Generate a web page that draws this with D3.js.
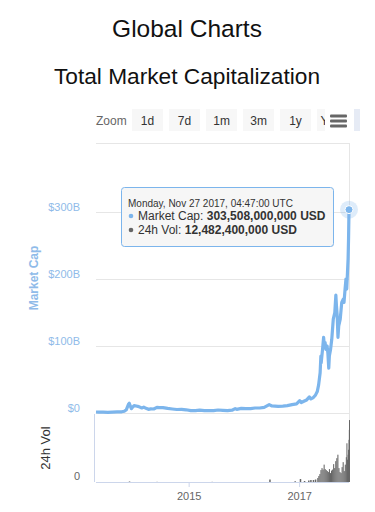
<!DOCTYPE html>
<html>
<head>
<meta charset="utf-8">
<script src="https://cdn.jsdelivr.net/npm/d3@7/dist/d3.min.js"></script>
<style>
  html, body { margin: 0; padding: 0; background: #fff; }
  svg { display: block; font-family: "Liberation Sans", Arial, sans-serif; }
</style>
</head>
<body>
<svg id="chart" width="375" height="512"></svg>
<script>
// market cap, billions USD
var capDates = ["2013-04-28","2013-05-15","2013-06-15","2013-07-15","2013-08-15","2013-09-15","2013-10-15","2013-11-01","2013-11-15","2013-11-30","2013-12-04","2013-12-10","2013-12-18","2013-12-25","2014-01-05","2014-01-20","2014-02-05","2014-02-25","2014-03-10","2014-03-25","2014-04-10","2014-04-25","2014-05-15","2014-06-05","2014-06-20","2014-07-15","2014-08-15","2014-09-15","2014-10-15","2014-11-15","2014-12-15","2015-01-15","2015-02-15","2015-03-15","2015-04-15","2015-05-15","2015-06-15","2015-07-15","2015-08-15","2015-09-15","2015-10-15","2015-11-05","2015-11-15","2015-12-15","2016-01-15","2016-02-15","2016-03-15","2016-04-15","2016-05-15","2016-06-17","2016-07-05","2016-08-15","2016-09-15","2016-10-15","2016-11-15","2016-12-15","2017-01-05","2017-01-15","2017-02-01","2017-02-20","2017-03-10","2017-03-20","2017-04-05","2017-04-20","2017-05-01","2017-05-10","2017-05-20","2017-05-25","2017-05-27","2017-06-05","2017-06-12","2017-06-15","2017-06-22","2017-06-27","2017-07-05","2017-07-10","2017-07-16","2017-07-20","2017-07-28","2017-08-05","2017-08-15","2017-08-25","2017-09-01","2017-09-05","2017-09-10","2017-09-15","2017-09-20","2017-09-30","2017-10-10","2017-10-20","2017-10-25","2017-11-01","2017-11-07","2017-11-12","2017-11-17","2017-11-21","2017-11-24","2017-11-27"];
var capValues = [1.5,1.3,1.2,1.0,1.3,1.6,1.8,2.6,5.0,13.5,14.5,11.0,6.5,8.5,11.0,10.5,9.5,7.5,8.8,7.0,5.5,6.2,6.0,8.5,8.0,8.0,6.8,6.0,5.2,5.5,4.8,3.5,3.5,4.2,3.5,3.6,3.6,4.5,4.0,3.5,4.2,6.5,5.5,6.8,6.6,6.6,7.5,7.5,8.5,12.5,10.5,10.0,10.4,11.0,12.5,13.5,18.5,15.5,17.5,19.5,24.0,21.0,23.0,27.0,32.0,42.0,60.0,85.0,75.0,95.0,113.0,105.0,105.0,95.0,100.0,90.0,67.0,85.0,95.0,110.0,140.0,150.0,176.0,160.0,145.0,113.0,130.0,140.0,165.0,170.0,165.0,185.0,200.0,185.0,210.0,230.0,260.0,303.5];

// 24h volume, billions USD
var volDates = ["2013-12-01","2014-06-01","2015-06-01","2016-06-17","2016-12-01","2017-01-05","2017-02-01","2017-03-01","2017-03-15","2017-04-01","2017-04-15","2017-05-01","2017-05-08","2017-05-15","2017-05-22","2017-05-29","2017-06-05","2017-06-12","2017-06-19","2017-06-26","2017-07-03","2017-07-10","2017-07-17","2017-07-24","2017-07-31","2017-08-07","2017-08-14","2017-08-21","2017-08-28","2017-09-04","2017-09-11","2017-09-18","2017-09-25","2017-10-02","2017-10-09","2017-10-16","2017-10-23","2017-10-30","2017-11-06","2017-11-10","2017-11-14","2017-11-18","2017-11-21","2017-11-24","2017-11-26","2017-11-27"];
var volValues = [0.1,0.03,0.03,0.5,0.15,0.6,0.2,0.3,0.4,0.4,0.5,0.8,1.2,1.6,2.4,2.8,2.5,3.5,2.6,2.4,2.2,2.0,2.6,1.8,2.3,2.5,3.6,2.8,4.2,4.8,5.5,2.8,2.0,1.8,3.0,4.0,2.2,3.5,5.0,7.8,4.5,5.5,6.5,8.5,10.5,12.48];

var capTicks = [0, 100, 200, 300];
var capTickLabels = ["$0", "$100B", "$200B", "$300B"];
var yearTicks = ["2015-01-01", "2017-01-01"];
var zoomButtons = ["1d", "7d", "1m", "3m", "1y", "YTD", "All"];
var tooltipLines = ["Monday, Nov 27 2017, 04:47:00 UTC", "Market Cap: ", "303,508,000,000 USD", "24h Vol: ", "12,482,400,000 USD"];

var parse = d3.utcParse("%Y-%m-%d");
var cap = capDates.map(function(d, i) { return {date: parse(d), value: capValues[i]}; });
var vol = volDates.map(function(d, i) { return {date: parse(d), value: volValues[i]}; });

var svg = d3.select("#chart");
var left = 96, right = 349;

// titles
svg.append("text").attr("x", 187).attr("y", 37).attr("text-anchor", "middle")
    .attr("font-size", 24.5).attr("fill", "#111").text("Global Charts");
svg.append("text").attr("x", 187).attr("y", 84).attr("text-anchor", "middle")
    .attr("font-size", 22.7).attr("fill", "#111").text("Total Market Capitalization");

// zoom buttons, the row is cut by the chart container at x=360
svg.append("clipPath").attr("id", "btnclip").append("rect")
    .attr("x", 0).attr("y", 100).attr("width", 360).attr("height", 40);
var btnG = svg.append("g").attr("clip-path", "url(#btnclip)");
btnG.append("text").attr("x", 96).attr("y", 125).attr("font-size", 12)
    .attr("fill", "#666").text("Zoom");
var step = 37, pad = 0.16;
var bx = d3.scaleBand().domain(zoomButtons)
    .range([132, 132 + step * (zoomButtons.length - pad)]).paddingInner(pad).paddingOuter(0);
var btn = btnG.selectAll("g.btn").data(zoomButtons).enter().append("g")
    .attr("transform", function(d) { return "translate(" + bx(d) + ",109)"; });
btn.append("rect").attr("width", bx.bandwidth()).attr("height", 22)
    .attr("fill", function(d) { return d === "All" ? "#e6ebf5" : "#f7f7f7"; });
btn.filter(function(d) { return d !== "All"; }).append("text")
    .attr("x", bx.bandwidth() / 2).attr("y", 16).attr("text-anchor", "middle")
    .attr("font-size", 12).attr("fill", "#333").text(function(d) { return d; });
// export menu icon sits over the YTD button
btnG.append("rect").attr("x", 325).attr("y", 108).attr("width", 24).attr("height", 24).attr("fill", "#fff");
[116, 121, 126].forEach(function(y) {
    btnG.append("rect").attr("x", 330).attr("y", y - 1.5).attr("width", 17).attr("height", 3)
        .attr("rx", 1).attr("fill", "#666");
});

// scales
var x = d3.scaleUtc().domain([parse("2013-04-28"), parse("2017-11-27")]).range([left, right]);
var y = d3.scaleLinear().domain([0, 300]).range([413, 212]);
var yv = d3.scaleLinear().domain([0, 13.7]).range([482, 414]);

// plot frame
svg.append("line").attr("x1", left).attr("x2", right).attr("y1", 143.5).attr("y2", 143.5).attr("stroke", "#e6e6e6");
svg.append("line").attr("x1", right + 0.5).attr("x2", right + 0.5).attr("y1", 143).attr("y2", 482).attr("stroke", "#e6e6e6");

// market cap grid + labels
var capAxis = d3.axisLeft(y).tickValues(capTicks).tickSize(right - left)
    .tickFormat(function(d, i) { return capTickLabels[i]; });
svg.append("g").attr("transform", "translate(" + right + ",0)").call(capAxis)
    .call(function(g) {
        g.select(".domain").remove();
        g.selectAll(".tick line").attr("stroke", "#e6e6e6");
        g.selectAll(".tick text").attr("x", 80 - right).attr("dy", "-0.15em")
            .attr("fill", "#8fbbe9").attr("font-size", 11).attr("font-family", "Liberation Sans, Arial, sans-serif");
    });
svg.append("text").attr("transform", "translate(38,278) rotate(-90)").attr("text-anchor", "middle")
    .attr("font-size", 12).attr("font-weight", "bold").attr("fill", "#8fbbe9").text("Market Cap");

// volume pane
svg.append("line").attr("x1", left - 1.5).attr("x2", left - 1.5).attr("y1", 414).attr("y2", 482).attr("stroke", "#ccd6eb");
svg.append("g").selectAll("rect").data(vol).enter().append("rect")
    .attr("x", function(d) { return x(d.date); })
    .attr("y", function(d) { return yv(d.value); })
    .attr("width", function(d, i) {
        var next = vol[i + 1] ? x(vol[i + 1].date) : right;
        return Math.max(1, Math.min(1.5, next - x(d.date)));
    })
    .attr("height", function(d) { return yv(0) - yv(d.value); })
    .attr("fill", "#666");
svg.append("text").attr("x", 80).attr("y", yv(0) - 2).attr("text-anchor", "end")
    .attr("font-size", 11).attr("fill", "#666").text("0");
svg.append("text").attr("transform", "translate(50,448) rotate(-90)").attr("text-anchor", "middle")
    .attr("font-size", 13).attr("fill", "#333").text("24h Vol");

// x axis
var xAxis = d3.axisBottom(x).tickValues(yearTicks.map(parse)).tickSize(5).tickFormat(d3.utcFormat("%Y"));
svg.append("g").attr("transform", "translate(0,482)").call(xAxis)
    .call(function(g) {
        g.select(".domain").attr("stroke", "#ccd6eb").attr("d", "M" + left + ",0.5H" + right);
        g.selectAll(".tick line").attr("stroke", "#ccd6eb");
        g.selectAll(".tick text").attr("y", 10).attr("fill", "#666").attr("font-size", 11)
            .attr("font-family", "Liberation Sans, Arial, sans-serif");
    });

// market cap line
var line = d3.line().x(function(d) { return x(d.date); }).y(function(d) { return y(d.value); });
svg.append("path").datum(cap).attr("d", line).attr("fill", "none")
    .attr("stroke", "#7cb5ec").attr("stroke-width", 3.2).attr("stroke-linejoin", "round");

// hover marker on last point
var last = cap[cap.length - 1];
svg.append("circle").attr("cx", x(last.date)).attr("cy", y(last.value)).attr("r", 9)
    .attr("fill", "#7cb5ec").attr("opacity", 0.25);
svg.append("circle").attr("cx", x(last.date)).attr("cy", y(last.value)).attr("r", 4)
    .attr("fill", "#7cb5ec").attr("stroke", "#fff").attr("stroke-width", 1);

// tooltip
var tip = svg.append("g").attr("transform", "translate(121,187)");
tip.append("rect").attr("x", 1).attr("y", 1).attr("width", 212).attr("height", 59).attr("rx", 3)
    .attr("fill", "#000").attr("opacity", 0.08);
tip.append("rect").attr("x", 0.5).attr("y", 0.5).attr("width", 212).attr("height", 59).attr("rx", 3)
    .attr("fill", "#f7f7f7").attr("fill-opacity", 0.95).attr("stroke", "#7cb5ec");
tip.append("text").attr("x", 7).attr("y", 20).attr("font-size", 10).attr("fill", "#333").text(tooltipLines[0]);
tip.append("circle").attr("cx", 10).attr("cy", 29).attr("r", 2.3).attr("fill", "#7cb5ec");
var t1 = tip.append("text").attr("x", 17).attr("y", 33).attr("font-size", 12).attr("fill", "#333");
t1.append("tspan").text(tooltipLines[1]);
t1.append("tspan").attr("font-weight", "bold").text(tooltipLines[2]);
tip.append("circle").attr("cx", 10).attr("cy", 43).attr("r", 2.3).attr("fill", "#666");
var t2 = tip.append("text").attr("x", 17).attr("y", 47).attr("font-size", 12).attr("fill", "#333");
t2.append("tspan").text(tooltipLines[3]);
t2.append("tspan").attr("font-weight", "bold").text(tooltipLines[4]);
</script>
</body>
</html>
